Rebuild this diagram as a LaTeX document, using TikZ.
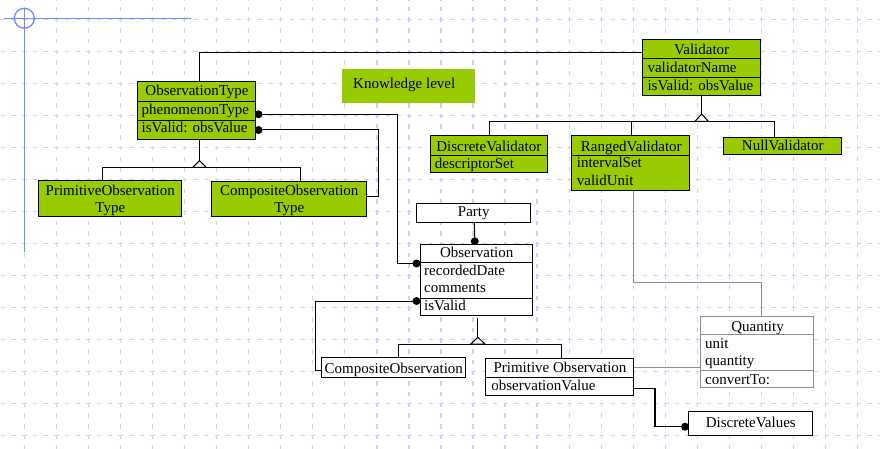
\documentclass[tikz,border=0pt]{standalone}
\usepackage{fontspec}
\setmainfont{Liberation Serif}
\usetikzlibrary{calc}
\definecolor{leaf}{RGB}{153,204,0}
\definecolor{gridblue}{RGB}{200,210,252}
\definecolor{markblue}{RGB}{110,140,255}
\definecolor{linkgray}{RGB}{140,140,140}
\pgfdeclarelayer{grid}
\pgfdeclarelayer{edges}
\pgfsetlayers{grid,edges,main}

\begin{document}
\begin{tikzpicture}[x=1pt,y=-1pt,
  every node/.style={font=\fontsize{15pt}{17pt}\selectfont},
  box/.style={draw=black, line width=1pt, inner sep=0pt, outer sep=0pt, rectangle},
  greenbox/.style={box, fill=leaf},
  whitebox/.style={box, fill=white},
  graybox/.style={box, fill=white, draw=linkgray},
  title/.style={inner sep=0pt, anchor=base},
  attr/.style={inner sep=0pt, anchor=base west},
  sep/.style={line width=1pt},
  graysep/.style={line width=1pt, draw=linkgray},
  conn/.style={line width=1pt, draw=black},
  thickconn/.style={line width=1.4pt, draw=black},
  grayconn/.style={line width=1pt, draw=linkgray},
  gen/.style={line width=1pt, draw=black, fill=white, line join=miter},
  dot/.style={fill=black},
  gridline/.style={draw=gridblue, line width=1.3pt, dash pattern=on 4.5pt off 6.2pt}
]
\useasboundingbox (0,0) rectangle (880,449);

% ---------- squared paper and corner mark ----------
\begin{pgfonlayer}{grid}
  \fill[white] (0,0) rectangle (880,449);
  \foreach \i in {0,...,26}
    \draw[gridline, dash phase=3.95pt] ({24.3+32.05*\i},0) -- ({24.3+32.05*\i},449);
  \foreach \j in {0,...,13}
    \draw[gridline, dash phase=10.05pt] (0,{19.7+32*\j}) -- (880,{19.7+32*\j});
  \draw[markblue, line width=1.3pt] (24.3,8) -- (24.3,251.7);
  \draw[markblue, line width=1.3pt] (4,18.3) -- (190.7,18.3);
  \draw[markblue, line width=1.3pt] (24.3,18.3) circle[radius=10pt];
\end{pgfonlayer}

% ---------- knowledge level ----------
\node[fill=leaf, inner sep=0pt, minimum width=133pt, minimum height=33.7pt] (know) at (408.5,85.85) {};
\node[attr] (know-t) at (353,88.3) {Knowledge level};

\node[greenbox, minimum width=118pt, minimum height=58pt] (otype) at (196,111) {};
\draw[sep] (otype.west |- 0,102) -- (otype.east |- 0,102);
\draw[sep] (otype.west |- 0,121) -- (otype.east |- 0,121);
\node[title] (otype-t) at (197,96) {ObservationType};
\node[attr] (otype-a1) at (141.5,114.5) {phenomenonType};
\node[attr] (otype-a2) at (141.5,133) {isValid: obsValue};

\node[greenbox, minimum width=118pt, minimum height=56.4pt] (valid) at (701.7,67.5) {};
\draw[sep] (valid.west |- 0,58.7) -- (valid.east |- 0,58.7);
\draw[sep] (valid.west |- 0,77.7) -- (valid.east |- 0,77.7);
\node[title] (valid-t) at (701.7,54.3) {Validator};
\node[attr] (valid-a1) at (647.3,72.3) {validatorName};
\node[attr] (valid-a2) at (647.3,90.5) {isValid: obsValue};

\node[greenbox, minimum width=117.3pt, minimum height=36.3pt] (dval) at (488.65,154.15) {};
\draw[sep] (dval.west |- 0,156) -- (dval.east |- 0,156);
\node[title] (dval-t) at (488.8,151.7) {DiscreteValidator};
\node[attr] (dval-a1) at (434.7,168.7) {descriptorSet};

\node[greenbox, minimum width=117.6pt, minimum height=54.7pt] (rval) at (630.5,163.35) {};
\draw[sep] (rval.west |- 0,156) -- (rval.east |- 0,156);
\node[title] (rval-t) at (631.3,151.7) {RangedValidator};
\node[attr] (rval-a1) at (576.7,167.7) {intervalSet};
\node[attr] (rval-a2) at (576.7,185.7) {validUnit};

\node[greenbox, minimum width=118.4pt, minimum height=17.7pt] (nval) at (782.5,146.15) {};
\node[title] (nval-t) at (782.8,150.7) {NullValidator};

\node[greenbox, minimum width=143.4pt, minimum height=35.3pt] (potype) at (110,198.35) {};
\node[title] (potype-t1) at (110.3,196) {PrimitiveObservation};
\node[title] (potype-t2) at (110.3,212) {Type};

\node[greenbox, minimum width=155pt, minimum height=35pt] (cotype) at (289.2,199.2) {};
\node[title] (cotype-t1) at (289.3,196) {CompositeObservation};
\node[title] (cotype-t2) at (289.3,212.5) {Type};

% ---------- operational level ----------
\node[whitebox, minimum width=113.3pt, minimum height=19pt] (party) at (473.35,212.8) {};
\node[title] (party-t) at (473.8,216.7) {Party};

\node[whitebox, minimum width=112.7pt, minimum height=71pt] (obs) at (476.35,279.8) {};
\draw[sep] (obs.west |- 0,262.3) -- (obs.east |- 0,262.3);
\draw[sep] (obs.west |- 0,298.3) -- (obs.east |- 0,298.3);
\node[title] (obs-t) at (476.7,257.7) {Observation};
\node[attr] (obs-a1) at (424,275) {recordedDate};
\node[attr] (obs-a2) at (424,292.3) {comments};
\node[attr] (obs-a3) at (424,310.5) {isValid};

\node[whitebox, minimum width=144.2pt, minimum height=20.4pt] (cobs) at (393.8,367.5) {};
\node[title] (cobs-t) at (393.8,373.3) {CompositeObservation};

\node[whitebox, minimum width=147.3pt, minimum height=37.4pt] (pobs) at (559.55,377) {};
\draw[sep] (pobs.west |- 0,377) -- (pobs.east |- 0,377);
\node[title] (pobs-t) at (560,372) {Primitive Observation};
\node[attr] (pobs-a1) at (491.2,390.5) {observationValue};

\node[graybox, minimum width=112.6pt, minimum height=70.6pt] (qty) at (757,352) {};
\draw[graysep] (qty.west |- 0,334.3) -- (qty.east |- 0,334.3);
\draw[graysep] (qty.west |- 0,370.7) -- (qty.east |- 0,370.7);
\node[title] (qty-t) at (757.5,331.2) {Quantity};
\node[attr] (qty-a1) at (705,348.3) {unit};
\node[attr] (qty-a2) at (705,365.3) {quantity};
\node[attr] (qty-a3) at (705,384) {convertTo:};

\node[whitebox, minimum width=124.4pt, minimum height=24pt] (dvals) at (750.5,423.7) {};
\node[title] (dvals-t) at (750.8,427.5) {DiscreteValues};

% ---------- connectors ----------
\begin{pgfonlayer}{edges}
  % type knowledge to validator
  \draw[conn] ($(otype.north)+(3.5,0)$) |- ($(valid.west)+(0,-14.5)$);

  % validator hierarchy
  \coordinate (vtip) at ($(valid.south)+(0,18.3)$);
  \draw[conn] (valid.south) -- (vtip);
  \draw[conn] ($(dval.north)+(0.35,0)$) |- ($(vtip)+(0,7.5)$) -| ($(nval.north)+(-8.5,0)$);
  \draw[conn] ($(rval.north)+(1.2,0)$) -- ($(rval.north)+(1.2,-14.3)$);
  \draw[gen] (vtip) -- ++(6.8,7.5) -- ++(-13.6,0) -- cycle;

  % observation type hierarchy
  \coordinate (otip) at ($(otype.south)+(3.5,20.7)$);
  \draw[conn] ($(otype.south)+(3.5,0)$) -- (otip);
  \draw[conn] ($(potype.north)+(-7.3,0)$) |- ($(otip)+(0,6.8)$) -| ($(cotype.north)+(10.8,0)$);
  \draw[gen] (otip) -- ++(7,6.8) -- ++(-14,0) -- cycle;

  % observation hierarchy
  \coordinate (obtip) at ($(obs.south)+(1.5,22)$);
  \draw[conn] ($(obs.south)+(1.5,3)$) -- (obtip);
  \draw[conn] ($(cobs.north)+(4.4,0)$) |- ($(obtip)+(0,6.8)$) -| ($(pobs.north)+(1.75,0)$);
  \draw[gen] (obtip) -- ++(7.2,6.8) -- ++(-14.4,0) -- cycle;

  % phenomenonType to observation
  \draw[conn] ($(otype.east)+(0,3.3)$) -| ($(obs.west)+(-22.8,-16.3)$) -- ($(obs.west)+(0,-16.3)$);
  \fill[dot] ($(otype.east)+(3.5,3.3)$) circle[radius=4pt];
  \fill[dot] ($(obs.west)+(-3.5,-16.3)$) circle[radius=4pt];

  % isValid of the type to the composite type
  \draw[conn] ($(otype.east)+(0,19)$) -| ($(cotype.east)+(11.3,-2.5)$) -- ($(cotype.east)+(0,-2.5)$);
  \fill[dot] ($(otype.east)+(3.5,19)$) circle[radius=4pt];

  % party to observation
  \coordinate (pfoot) at ($(party.south)+(1,0)$);
  \coordinate (ptop) at ($(obs.north)+(-1.6,0)$);
  \draw[conn] (pfoot) -- (ptop);
  \fill[dot] ($(ptop)+(0,-3)$) circle[radius=4pt];

  % isValid of observation to composite observation
  \draw[conn] ($(obs.west)+(0,21.2)$) -| ($(cobs.west)+(-6.2,2.5)$) -- ($(cobs.west)+(0,2.5)$);
  \fill[dot] ($(obs.west)+(-3.5,21.2)$) circle[radius=4pt];

  % observationValue to discrete values
  \draw[thickconn] ($(pobs.east)+(0,11.3)$) -| ($(dvals.west)+(-33.3,3)$) -- ($(dvals.west)+(0,3)$);
  \fill[dot] ($(dvals.west)+(-3.3,3)$) circle[radius=4pt];

  % quantity links
  \draw[grayconn] ($(rval.south)+(2.8,0)$) |- ($(qty.north)+(4.7,-34.4)$) -- ($(qty.north)+(4.7,0)$);
  \draw[grayconn] ($(pobs.east)+(0,-10)$) -- ($(qty.west)+(0,15)$);
\end{pgfonlayer}
\end{tikzpicture}
\end{document}
